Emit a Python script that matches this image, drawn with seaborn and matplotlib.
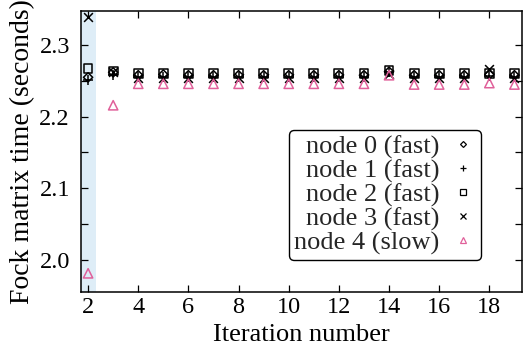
import numpy as np
import pandas as pd
import seaborn as sns
import matplotlib
matplotlib.use("Agg")
import matplotlib.pyplot as plt
from matplotlib.ticker import MultipleLocator, FixedLocator

# Fock matrix build time per SCF iteration on each node
iterations = list(range(2, 20))
node0 = [2.255, 2.262, 2.258, 2.259, 2.258, 2.258, 2.258, 2.258, 2.258, 2.258, 2.258, 2.258, 2.263, 2.258, 2.258, 2.258, 2.259, 2.258]
node1 = [2.252, 2.258, 2.256, 2.256, 2.256, 2.256, 2.256, 2.256, 2.256, 2.256, 2.256, 2.256, 2.262, 2.256, 2.256, 2.256, 2.257, 2.256]
node2 = [2.267, 2.264, 2.260, 2.260, 2.260, 2.260, 2.260, 2.260, 2.260, 2.260, 2.260, 2.260, 2.265, 2.260, 2.260, 2.260, 2.260, 2.260]
node3 = [2.339, 2.262, 2.254, 2.254, 2.254, 2.254, 2.254, 2.254, 2.254, 2.254, 2.254, 2.254, 2.260, 2.254, 2.254, 2.254, 2.266, 2.254]
node4 = [1.981, 2.216, 2.246, 2.246, 2.246, 2.246, 2.246, 2.246, 2.246, 2.246, 2.246, 2.246, 2.258, 2.245, 2.245, 2.245, 2.247, 2.245]

labels = ["node 0 (fast)", "node 1 (fast)", "node 2 (fast)", "node 3 (fast)", "node 4 (slow)"]
series = [node0, node1, node2, node3, node4]
markers = ["D", "+", "s", "x", "^"]
colors = ["black", "black", "black", "black", "#e0609a"]
sizes = [22, 45, 40, 40, 45]
hollow = [True, False, True, False, True]

sns.set_theme(style="ticks")
plt.rcParams["font.family"] = ["Liberation Serif", "DejaVu Serif"]

fig = plt.figure(figsize=(5.23, 3.5), dpi=100)
ax = fig.add_axes([0.155, 0.166, 0.843, 0.803])

# first iteration highlighted
ax.axvspan(1.72, 2.3, color="#deedf7", lw=0, zorder=0)

handles = []
for lab, vals, m, c, s, h in zip(labels, series, markers, colors, sizes, hollow):
    df = pd.DataFrame({"iteration": iterations, "time": vals})
    sns.scatterplot(data=df, x="iteration", y="time", marker=m, s=s,
                    color=c, linewidth=1.1, ax=ax, zorder=3)
    coll = ax.collections[-1]
    if h:
        coll.set_facecolor("none")
    coll.set_edgecolor(c)
    handles.append(plt.Line2D([], [], ls="", marker=m, ms=4 if m != "D" else 3,
                              mfc="none", mec=c, mew=0.9, color=c, label=lab))

ax.set_xlim(1.72, 19.3)
ax.set_ylim(1.955, 2.348)
ax.xaxis.set_major_locator(FixedLocator(range(2, 20, 2)))
ax.yaxis.set_major_locator(MultipleLocator(0.1))
ax.yaxis.set_minor_locator(MultipleLocator(0.05))
ax.set_yticklabels([f"{v:.1f}" for v in ax.get_yticks()])

ax.tick_params(axis="both", which="both", direction="in", top=True, right=True,
               labelsize=17.5, length=5, width=0.9, color="black", labelcolor="black")
ax.tick_params(axis="x", pad=4)
ax.tick_params(axis="y", pad=8)
for sp in ax.spines.values():
    sp.set_linewidth(1.1)
    sp.set_color("black")

ax.set_xlabel("Iteration number", fontsize=19, labelpad=4, color="black")
ax.set_ylabel("Fock matrix time (seconds)", fontsize=20, labelpad=3, color="black")

leg = ax.legend(handles=handles, loc="center right", bbox_to_anchor=(0.92, 0.345),
                markerfirst=False, fontsize=19, frameon=True, fancybox=True,
                labelspacing=0.0, handlelength=1.0, handletextpad=0.4,
                borderpad=0.2, borderaxespad=0.2)
leg.get_frame().set_edgecolor("black")
leg.get_frame().set_linewidth(1.0)
leg.get_frame().set_alpha(1)
for t in leg.get_texts():
    t.set_ha("right")

fig.savefig("out.png", dpi=100)
